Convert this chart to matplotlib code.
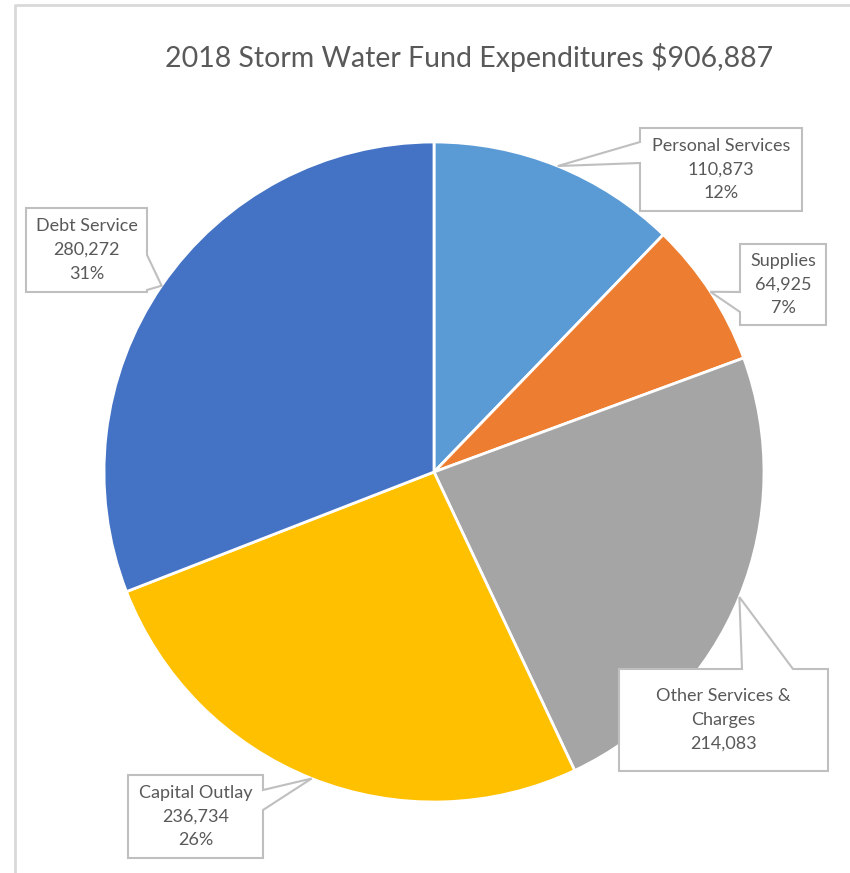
import numpy as np
import matplotlib
matplotlib.use('Agg')
import matplotlib.pyplot as plt
from matplotlib.patches import Polygon

# Storm water fund expenditures, 2018
categories = ['Personal Services', 'Supplies', 'Other Services &\nCharges',
              'Capital Outlay', 'Debt Service']
amounts = [110873, 64925, 214083, 236734, 280272]
colors = ['#5B9BD5', '#ED7D31', '#A5A5A5', '#FFC000', '#4472C4']
show_pct = [True, True, False, True, True]
title = '2018 Storm Water Fund Expenditures $906,887'

W, H = 850, 873
CX, CY, R = 434, 472, 330   # pie centre and radius in pixels

plt.rcParams['font.family'] = ['Lato', 'DejaVu Sans']
fig = plt.figure(figsize=(W / 100, H / 100), dpi=100)
ax = fig.add_axes([0, 0, 1, 1])


def px(x, y):
    # pixel position -> data coords
    return (x - CX) / R, (CY - y) / R


wedges, _ = ax.pie(amounts, colors=colors, startangle=90, counterclock=False,
                   radius=1, center=(0, 0), frame=True,
                   wedgeprops=dict(edgecolor='white', linewidth=2))
ax.set_xlim(-CX / R, (W - CX) / R)
ax.set_ylim((CY - H) / R, CY / R)
ax.set_aspect('equal')
ax.axis('off')

# chart area border (only left and top visible)
fx0, fy0 = px(15, 5)
ax.plot([fx0, fx0, px(W + 5, 0)[0]], [px(0, H + 5)[1], fy0, fy0],
        color='#D9D9D9', lw=2, solid_capstyle='butt', zorder=0)

ax.text(*px(469, 57), title, ha='center', va='center', fontsize=20.5,
        color='#595959')

# callout boxes: (x0, y0, x1, y1) in px, side the pointer leaves from, pointer base span
boxes = [
    ((640, 128, 802, 211), 'left', (142, 163)),
    ((740, 244, 826, 325), 'left', (292, 312)),
    ((619, 669, 828, 771), 'top', (742, 793)),
    ((128, 775, 263, 858), 'right', (790, 810)),
    ((26, 208, 147, 292), 'right', (255, 290)),
]

total = sum(amounts)
start = 0
for name, val, pct, (bx, side, base) in zip(categories, amounts, show_pct, boxes):
    mid = (start + val / 2) / total * 2 * np.pi
    start += val
    tip = (np.sin(mid), np.cos(mid))
    x0, y0, x1, y1 = bx
    if side == 'left':
        pts = [(x0, y0), (x1, y0), (x1, y1), (x0, y1), (x0, base[1]), None, (x0, base[0])]
    elif side == 'right':
        pts = [(x0, y0), (x1, y0), (x1, base[0]), None, (x1, base[1]), (x1, y1), (x0, y1)]
    else:
        pts = [(x0, y0), (base[0], y0), None, (base[1], y0), (x1, y0), (x1, y1), (x0, y1)]
    verts = [tip if p is None else px(*p) for p in pts]
    ax.add_patch(Polygon(verts, closed=True, facecolor='white', edgecolor='#BFBFBF',
                         lw=1.5, zorder=5))
    lines = [name, f'{val:,}']
    if pct:
        lines.append(f'{val / total:.0%}')
    label = '\n'.join(lines)
    ax.text(*px((x0 + x1) / 2, (y0 + y1) / 2), label, ha='center', va='center',
            fontsize=13, color='#595959', linespacing=1.6, zorder=6)

fig.savefig('out.png', dpi=100, facecolor='white')
